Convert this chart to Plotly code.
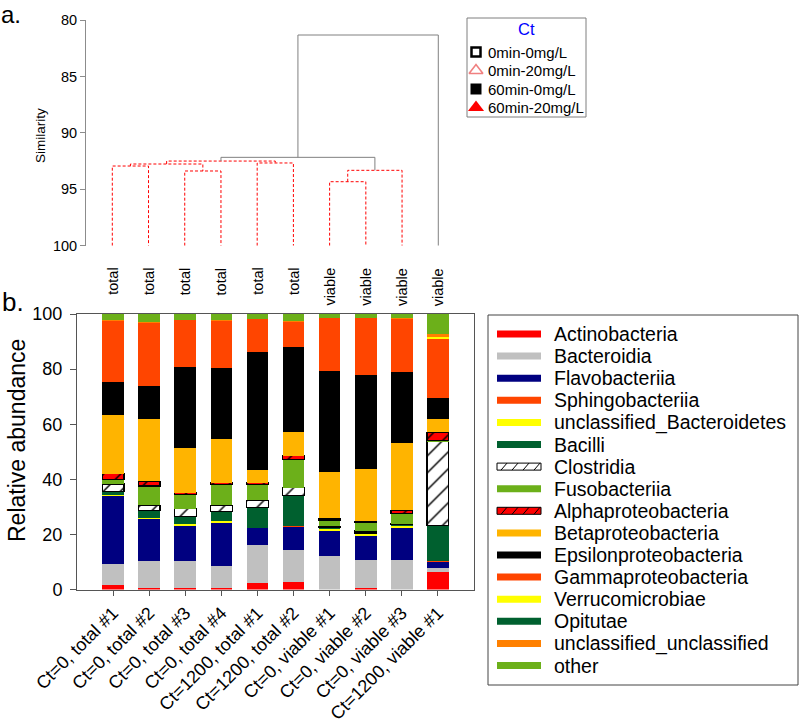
import plotly.graph_objects as go

# ---------------- data ----------------
samples = ["Ct=0, total #1", "Ct=0, total #2", "Ct=0, total #3", "Ct=0, total #4",
           "Ct=1200, total #1", "Ct=1200, total #2", "Ct=0, viable #1", "Ct=0, viable #2",
           "Ct=0, viable #3", "Ct=1200, viable #1"]

taxa = ["Actinobacteria", "Bacteroidia", "Flavobacteriia", "Sphingobacteriia",
        "unclassified_Bacteroidetes", "Bacilli", "Clostridia", "Fusobacteriia",
        "Alphaproteobacteria", "Betaproteobacteria", "Epsilonproteobacteria",
        "Gammaproteobacteria", "Verrucomicrobiae", "Opitutae",
        "unclassified_unclassified", "other"]

taxa_colors = ["#ff0000", "#c0c0c0", "#000080", "#ff4500", "#ffff00", "#00602f",
               "#ffffff", "#6cb01a", "#ff0000", "#ffb400", "#000000", "#ff4500",
               "#ffff00", "#00602f", "#ff8000", "#6cb01a"]

actinobacteria        = [1.5, 0.7, 0.5, 0.6, 2.5, 2.9, 0.0, 0.4, 0.0, 6.2]
bacteroidia           = [7.6, 9.6, 9.8, 8.1, 13.5, 11.6, 12.2, 10.4, 10.8, 1.7]
flavobacteriia        = [24.9, 15.2, 12.7, 15.5, 6.2, 8.2, 9.1, 8.8, 11.6, 2.0]
sphingobacteriia      = [0.0, 0.0, 0.0, 0.0, 0.0, 0.4, 0.0, 0.0, 0.0, 0.3]
uncl_bacteroidetes    = [0.4, 0.4, 0.6, 0.6, 0.3, 0.0, 0.6, 0.5, 0.5, 0.0]
bacilli               = [1.3, 2.9, 2.8, 3.4, 7.3, 11.1, 0.5, 0.4, 0.7, 13.0]
clostridia            = [2.6, 1.8, 3.0, 2.4, 2.6, 2.7, 0.5, 0.7, 0.3, 30.4]
fusobacteriia         = [1.7, 7.0, 5.2, 7.6, 5.8, 10.3, 2.3, 3.0, 3.7, 0.6]
alphaproteobacteria   = [2.1, 1.7, 0.6, 0.6, 0.6, 1.3, 0.6, 0.6, 1.2, 2.9]
betaproteobacteria    = [21.2, 22.6, 16.0, 15.7, 4.7, 8.7, 16.7, 18.8, 24.5, 4.8]
epsilonproteobacteria = [12.1, 12.0, 29.4, 25.9, 42.7, 30.9, 36.9, 34.4, 25.8, 7.7]
gammaproteobacteria   = [22.2, 23.0, 17.2, 17.1, 11.9, 9.1, 19.0, 20.4, 19.1, 21.3]
verrucomicrobiae      = [0.0, 0.0, 0.0, 0.0, 0.0, 0.0, 0.0, 0.0, 0.0, 0.6]
opitutae              = [0.0, 0.0, 0.0, 0.0, 0.0, 0.0, 0.0, 0.0, 0.0, 0.0]
uncl_unclassified     = [0.3, 0.2, 0.2, 0.2, 0.2, 0.2, 0.2, 0.2, 0.2, 1.2]
other                 = [2.1, 2.9, 2.0, 2.3, 1.7, 2.6, 1.4, 1.4, 1.6, 7.3]

abundance = [actinobacteria, bacteroidia, flavobacteriia, sphingobacteriia,
             uncl_bacteroidetes, bacilli, clostridia, fusobacteriia,
             alphaproteobacteria, betaproteobacteria, epsilonproteobacteria,
             gammaproteobacteria, verrucomicrobiae, opitutae, uncl_unclassified, other]

hatched_taxa = ["Clostridia", "Alphaproteobacteria"]

# dendrogram (leaf order left to right)
leaf_labels = ["total", "total", "total", "total", "total", "total",
               "viable", "viable", "viable", "viable"]
leaf_types = ["0min-20mg/L", "60min-0mg/L", "0min-0mg/L", "0min-20mg/L",
              "60min-20mg/L", "60min-20mg/L", "0min-0mg/L", "0min-20mg/L",
              "60min-0mg/L", "60min-20mg/L"]
# merges: node ids 0-9 leaves, merges numbered from 10
merge_left   = [0, 2, 10, 4, 12, 6, 15, 14, 17]
merge_right  = [1, 3, 11, 5, 13, 7, 8, 16, 9]
merge_height = [92.94, 93.38, 92.76, 92.67, 92.50, 94.33, 93.32, 92.17, 81.33]
merge_simprof_same = [True, True, True, True, True, True, True, False, False]

type_names = ["0min-0mg/L", "0min-20mg/L", "60min-0mg/L", "60min-20mg/L"]

# ---------------- helpers ----------------
W, H = 800, 724
FONT = "Arial, Liberation Sans, sans-serif"


def px(x):
    return x / W


def py(y):
    return 1 - y / H


type_style = {
    "0min-0mg/L": dict(symbol="square", color="white", size=9, line=dict(color="black", width=2.5)),
    "0min-20mg/L": dict(symbol="triangle-up", color="white", size=12, line=dict(color="#f08080", width=1.6)),
    "60min-0mg/L": dict(symbol="square", color="black", size=11, line=dict(width=0)),
    "60min-20mg/L": dict(symbol="triangle-up", color="#ff0000", size=14, line=dict(width=0)),
}

fig = go.Figure()

# ---------------- stacked bars ----------------
xs = list(range(len(samples)))
for name, vals, col in zip(taxa, abundance, taxa_colors):
    if name in hatched_taxa:
        marker = dict(color=col, line=dict(color="black", width=1.2),
                      pattern=dict(shape="/", fgcolor="black", bgcolor=col,
                                   size=12, solidity=0.12, fillmode="replace"))
    else:
        marker = dict(color=col, line=dict(width=0))
    fig.add_trace(go.Bar(x=xs, y=vals, name=name, marker=marker, width=0.6,
                         xaxis="x", yaxis="y", showlegend=False))

# ---------------- dendrogram ----------------
node_x = [float(i) for i in range(len(leaf_labels))]
node_h = [100.0] * len(leaf_labels)
red_x, red_y, gray_x, gray_y = [], [], [], []
for l, r, h, same in zip(merge_left, merge_right, merge_height, merge_simprof_same):
    xl, xr = node_x[l], node_x[r]
    seg_x = [xl, xl, xr, xr, None]
    seg_y = [node_h[l], h, h, node_h[r], None]
    if same:
        red_x += seg_x
        red_y += seg_y
    else:
        gray_x += seg_x
        gray_y += seg_y
    node_x.append((xl + xr) / 2)
    node_h.append(h)

fig.add_trace(go.Scatter(x=red_x, y=red_y, mode="lines", xaxis="x2", yaxis="y2",
                         line=dict(color="#ff0000", width=1, dash="3px,2px"),
                         showlegend=False, hoverinfo="skip"))
fig.add_trace(go.Scatter(x=gray_x, y=gray_y, mode="lines", xaxis="x2", yaxis="y2",
                         line=dict(color="#808080", width=1),
                         showlegend=False, hoverinfo="skip"))

marker_level = 100.92
for t in type_names:
    idx = [i for i, lt in enumerate(leaf_types) if lt == t]
    fig.add_trace(go.Scatter(x=idx, y=[marker_level] * len(idx), mode="markers",
                             xaxis="x2", yaxis="y2", marker=type_style[t],
                             cliponaxis=False, showlegend=False, name=t))

annotations = []
for i, lab in enumerate(leaf_labels):
    annotations.append(dict(x=i, y=py(266), xref="x2", yref="paper", text=lab,
                            textangle=-90, showarrow=False, xanchor="center",
                            yanchor="top", font=dict(family=FONT, size=14.5, color="black")))

# top legend (Ct) drawn on overlay axis in pixel units
leg_rows = [52, 70.5, 89, 107.5]
for t, yrow in zip(type_names, leg_rows):
    st = dict(type_style[t])
    fig.add_trace(go.Scatter(x=[476], y=[yrow], mode="markers", xaxis="x3", yaxis="y3",
                             marker=st, showlegend=False, hoverinfo="skip", cliponaxis=False))
    annotations.append(dict(x=px(486), y=py(yrow), xref="paper", yref="paper", text=t,
                            showarrow=False, xanchor="left", yanchor="middle",
                            font=dict(family=FONT, size=15, color="black")))
annotations.append(dict(x=px(526.5), y=py(29), xref="paper", yref="paper", text="Ct",
                        showarrow=False, xanchor="center", yanchor="middle",
                        font=dict(family=FONT, size=16.5, color="#0000ff")))

shapes = []
shapes.append(dict(type="rect", xref="paper", yref="paper", x0=px(467), x1=px(586),
                   y0=py(18), y1=py(117), line=dict(color="#7f7f7f", width=1),
                   fillcolor="rgba(0,0,0,0)", layer="above"))

# bottom legend
shapes.append(dict(type="rect", xref="paper", yref="paper", x0=px(488), x1=px(798),
                   y0=py(315), y1=py(685), line=dict(color="#444444", width=1),
                   fillcolor="rgba(0,0,0,0)", layer="above"))
sw_x0, sw_x1 = 497, 541
for k, (name, col) in enumerate(zip(taxa, taxa_colors)):
    yc = 334 + 22.1 * k
    hatched = name in hatched_taxa
    shapes.append(dict(type="rect", xref="paper", yref="paper",
                       x0=px(sw_x0), x1=px(sw_x1), y0=py(yc + 3.5), y1=py(yc - 3.5),
                       fillcolor=col,
                       line=dict(color="black" if hatched else col, width=1 if hatched else 0),
                       layer="above"))
    if hatched:
        for j in range(4):
            xa = sw_x0 + 4 + j * 11
            shapes.append(dict(type="line", xref="paper", yref="paper",
                               x0=px(xa), x1=px(xa + 6), y0=py(yc + 3.5), y1=py(yc - 3.5),
                               line=dict(color="black", width=1), layer="above"))
    annotations.append(dict(x=px(552), y=py(yc), xref="paper", yref="paper", text=name,
                            showarrow=False, xanchor="left", yanchor="middle",
                            font=dict(family=FONT, size=19.5, color="black")))

# axis titles and panel labels
annotations.append(dict(x=px(41), y=py(136), xref="paper", yref="paper", text="Similarity",
                        textangle=-90, showarrow=False, xanchor="center", yanchor="middle",
                        font=dict(family=FONT, size=13.5, color="black")))
annotations.append(dict(x=px(17), y=py(441), xref="paper", yref="paper",
                        text="Relative abundance", textangle=-90, showarrow=False,
                        xanchor="center", yanchor="middle",
                        font=dict(family=FONT, size=23, color="black")))
annotations.append(dict(x=px(0), y=py(0), xref="paper", yref="paper", text="a.",
                        showarrow=False, xanchor="left", yanchor="top", borderpad=0,
                        font=dict(family=FONT, size=24, color="black")))
annotations.append(dict(x=px(0), y=py(302), xref="paper", yref="paper", text="b.",
                        showarrow=False, xanchor="left", yanchor="middle",
                        font=dict(family=FONT, size=26, color="black")))

common = dict(automargin=False, fixedrange=True, showgrid=False, zeroline=False)

fig.update_layout(
    template="none",
    width=W, height=H, autosize=False,
    margin=dict(l=0, r=0, t=0, b=0, pad=0, autoexpand=False),
    paper_bgcolor="white", plot_bgcolor="rgba(0,0,0,0)",
    barmode="stack", bargap=0.4,
    font=dict(family=FONT, color="black"),
    showlegend=False,
    xaxis=dict(domain=[px(77), px(474)], range=[-1, 10], anchor="y",
               tickvals=xs, ticktext=samples, tickangle=-45,
               tickfont=dict(family=FONT, size=18, color="black"),
               ticks="outside", ticklen=5, tickcolor="#555555",
               showline=True, linecolor="#555555", linewidth=1, mirror=True, **common),
    yaxis=dict(domain=[py(589.5), py(314)], range=[0, 100], anchor="x",
               tickvals=[0, 20, 40, 60, 80, 100],
               tickfont=dict(family=FONT, size=18, color="black"),
               ticks="outside", ticklen=6, tickcolor="#555555", ticklabelstandoff=4,
               showline=True, linecolor="#555555", linewidth=1, mirror=True, **common),
    xaxis2=dict(domain=[px(86), px(474)], range=[-0.726, 9.986], anchor="y2",
                visible=False, **common),
    yaxis2=dict(domain=[py(245.7), py(20)], range=[100, 80], anchor="x2",
                tickvals=[80, 85, 90, 95, 100],
                tickfont=dict(family=FONT, size=14.5, color="black"),
                ticks="outside", ticklen=5, tickcolor="#8c8c8c",
                showline=True, linecolor="#8c8c8c", linewidth=1, **common),
    xaxis3=dict(domain=[0, 1], range=[0, W], anchor="y3", visible=False, **common),
    yaxis3=dict(domain=[0, 1], range=[H, 0], anchor="x3", visible=False, **common),
    annotations=annotations,
    shapes=shapes,
)

fig.write_html("out.html", config={"displayModeBar": False, "staticPlot": True},
               post_script="document.body.style.margin='0';document.body.style.overflow='hidden';")
